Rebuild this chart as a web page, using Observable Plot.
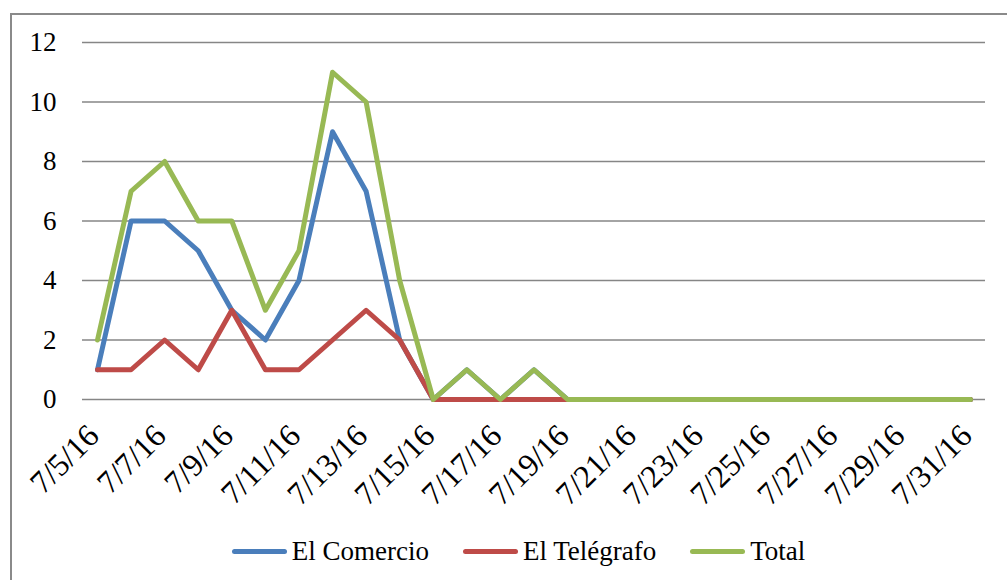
<!DOCTYPE html>
<html>
<head>
<meta charset="utf-8">
<script src="https://cdn.jsdelivr.net/npm/d3@7"></script>
<script src="https://cdn.jsdelivr.net/npm/@observablehq/plot@0.6"></script>
<style>
  html, body { margin: 0; padding: 0; background: #fff; width: 1007px; height: 580px; overflow: hidden; }
  #frame { position: absolute; left: 10px; top: 13px; width: 1020px; height: 600px; border: 2px solid #8a8a8a; box-sizing: border-box; }
  #chart { position: absolute; left: 0; top: 0; }
  #legend { position: absolute; left: 15px; top: 536px; width: 1007px; display: flex; justify-content: center; align-items: center;
            font-family: "Liberation Serif", serif; font-size: 27px; color: #000; }
  .item { display: flex; align-items: center; margin: 0 17px; }
  .sw { width: 55px; height: 5px; border-radius: 3px; margin-right: 5px; }
  #chart svg, #chart svg text { font-family: "Liberation Serif", serif; }
  #chart g[aria-label="x-axis tick label"] { font-size: 32px; }
  #chart g[aria-label="y-axis tick label"] { font-size: 27px; }
</style>
</head>
<body>
<div id="frame"></div>
<div id="chart"></div>
<div id="legend"></div>
<script>
const dates = ["7/5/16","7/6/16","7/7/16","7/8/16","7/9/16","7/10/16","7/11/16","7/12/16","7/13/16","7/14/16",
  "7/15/16","7/16/16","7/17/16","7/18/16","7/19/16","7/20/16","7/21/16","7/22/16","7/23/16","7/24/16",
  "7/25/16","7/26/16","7/27/16","7/28/16","7/29/16","7/30/16","7/31/16"];
const tickLabels = ["7/5/16","7/7/16","7/9/16","7/11/16","7/13/16","7/15/16","7/17/16","7/19/16",
  "7/21/16","7/23/16","7/25/16","7/27/16","7/29/16","7/31/16"];
const elComercio = [1,6,6,5,3,2,4,9,7,2,0,1,0,1,0,0,0,0,0,0,0,0,0,0,0,0,0];
const elTelegrafo = [1,1,2,1,3,1,1,2,3,2,0,0,0,0,0,0,0,0,0,0,0,0,0,0,0,0,0];
const total = [2,7,8,6,6,3,5,11,10,4,0,1,0,1,0,0,0,0,0,0,0,0,0,0,0,0,0];
const seriesNames = ["El Comercio","El Telégrafo","Total"];
const seriesColors = ["#4a7ebb","#be4b48","#98b954"];
const yTicks = [0,2,4,6,8,10,12];

const seriesValues = [elComercio, elTelegrafo, total];
const rows = [];
seriesNames.forEach((s, i) => dates.forEach((d, j) => rows.push({date: d, value: seriesValues[i][j], series: s})));

const chart = Plot.plot({
  width: 1007,
  height: 520,
  marginLeft: 82,
  marginRight: 22,
  marginTop: 42,
  marginBottom: 121,
  style: {fontFamily: "'Liberation Serif', serif", fontSize: "27px", color: "#000", background: "transparent"},
  x: {type: "point", domain: dates, range: [97, 970], padding: 0, round: false, label: null},
  y: {domain: [0, 12], label: null},
  color: {domain: seriesNames, range: seriesColors},
  marks: [
    Plot.ruleY(yTicks, {stroke: "#868686", strokeWidth: 1.6, strokeOpacity: 1}),
    Plot.axisY({ticks: yTicks, tickSize: 0, tickPadding: 26, label: null, fontSize: 27}),
    Plot.axisX({ticks: tickLabels, tickSize: 0, tickRotate: -45, tickPadding: 31, dx: -4, label: null, fontSize: 32}),
    Plot.line(rows, {x: "date", y: "value", z: "series", stroke: "series", strokeWidth: 5, strokeLinejoin: "round", strokeLinecap: "round", curve: "linear"})
  ]
});
document.getElementById("chart").appendChild(chart);

const legend = document.getElementById("legend");
seriesNames.forEach((s, i) => {
  const it = document.createElement("div");
  it.className = "item";
  const sw = document.createElement("div");
  sw.className = "sw";
  sw.style.background = seriesColors[i];
  const t = document.createElement("span");
  t.textContent = s;
  it.appendChild(sw); it.appendChild(t);
  legend.appendChild(it);
});
</script>
</body>
</html>
